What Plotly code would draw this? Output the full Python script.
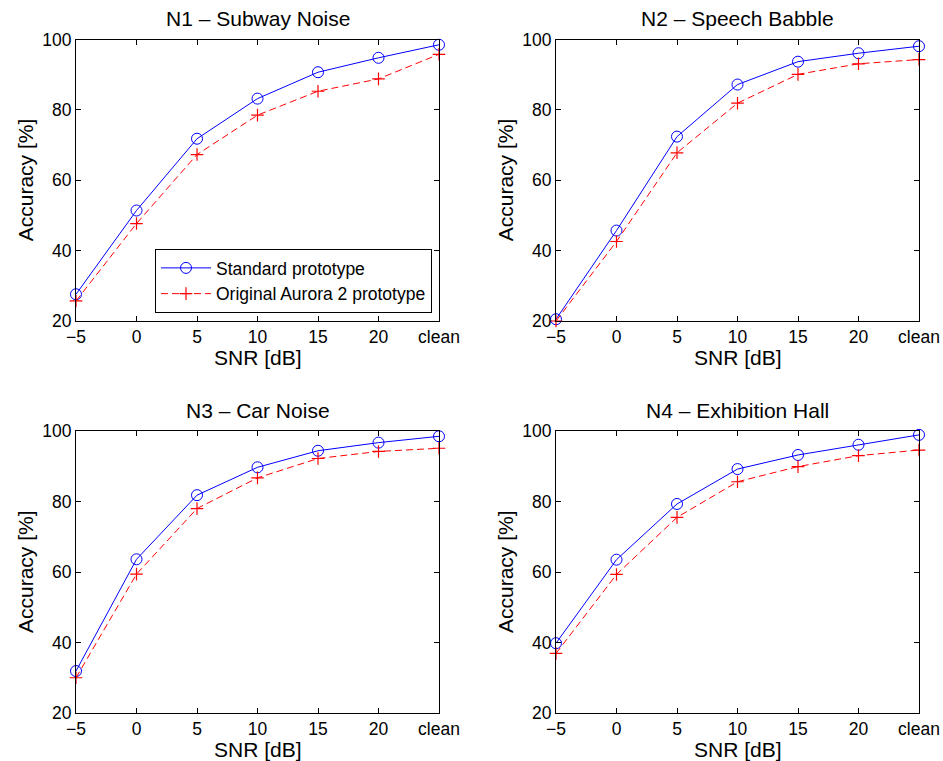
import plotly.graph_objects as go

snr_labels = ["\u22125", "0", "5", "10", "15", "20", "clean"]
x_pos = [0, 1, 2, 3, 4, 5, 6]

titles = ["N1 \u2013 Subway Noise", "N2 \u2013 Speech Babble",
          "N3 \u2013 Car Noise", "N4 \u2013 Exhibition Hall"]

std_n1 = [27.6, 51.4, 71.8, 83.2, 90.7, 94.8, 98.5]
orig_n1 = [25.7, 47.7, 67.3, 78.5, 85.3, 88.8, 95.8]
std_n2 = [20.5, 45.7, 72.4, 87.2, 93.7, 96.1, 98.1]
orig_n2 = [20.0, 42.6, 67.8, 81.9, 90.1, 93.1, 94.3]
std_n3 = [31.9, 63.6, 81.8, 89.7, 94.4, 96.7, 98.5]
orig_n3 = [30.0, 59.4, 78.0, 86.7, 92.2, 94.2, 95.1]
std_n4 = [39.8, 63.5, 79.3, 89.2, 93.2, 96.1, 98.9]
orig_n4 = [36.9, 59.3, 75.5, 85.6, 89.9, 93.0, 94.6]

std_all = [std_n1, std_n2, std_n3, std_n4]
orig_all = [orig_n1, orig_n2, orig_n3, orig_n4]

W, H = 943, 761
FONT = "Liberation Sans, Arial, Helvetica, sans-serif"
TICK_SIZE = 17.5
LABEL_SIZE = 21

# axes boxes in pixels: (left, right, top, bottom)
boxes = [(76, 439, 39.5, 321), (556, 919, 39.5, 321),
         (76, 439, 431, 713), (556, 919, 431, 713)]

fig = go.Figure()
layout = dict(
    template="none",
    width=W, height=H, margin=dict(l=0, r=0, t=0, b=0, pad=0, autoexpand=False),
    paper_bgcolor="white", plot_bgcolor="white",
    font=dict(family=FONT, size=TICK_SIZE, color="black"),
    showlegend=True,
    legend=dict(x=432 / W, xanchor="right", y=1 - 313 / H, yanchor="bottom",
                bgcolor="white", bordercolor="black", borderwidth=1,
                font=dict(family=FONT, size=TICK_SIZE, color="black"),
                tracegroupgap=0, itemwidth=50),
)

annotations = []
for i in range(4):
    l, r, t, b = boxes[i]
    xa = "xaxis" if i == 0 else f"xaxis{i+1}"
    ya = "yaxis" if i == 0 else f"yaxis{i+1}"
    xref = "x" if i == 0 else f"x{i+1}"
    yref = "y" if i == 0 else f"y{i+1}"
    axis_common = dict(showline=True, linecolor="black", linewidth=1, mirror="ticks",
                       ticks="inside", ticklen=5, tickcolor="black", showgrid=False,
                       zeroline=False, automargin=False,
                       tickfont=dict(family=FONT, size=TICK_SIZE, color="black"))
    layout[xa] = dict(domain=[l / W, r / W], range=[0, 6], tickvals=x_pos,
                      ticktext=snr_labels, anchor=yref, **axis_common)
    layout[ya] = dict(domain=[1 - b / H, 1 - t / H], range=[20, 100],
                      tickvals=[20, 40, 60, 80, 100], anchor=xref, **axis_common)
    fig.add_trace(go.Scatter(
        x=x_pos, y=std_all[i], xaxis=xref, yaxis=yref, mode="lines+markers",
        name="Standard prototype", showlegend=(i == 0), cliponaxis=False,
        line=dict(color="blue", width=1),
        marker=dict(symbol="circle-open", size=11, color="blue", line=dict(width=1))))
    fig.add_trace(go.Scatter(
        x=x_pos, y=orig_all[i], xaxis=xref, yaxis=yref, mode="lines+markers",
        name="Original Aurora 2 prototype", showlegend=(i == 0), cliponaxis=False,
        line=dict(color="red", width=1, dash="7px,4px"),
        marker=dict(symbol="cross-thin-open", size=9, color="red",
                    line=dict(width=1.2, color="red"))))
    cx = (l + r) / 2
    annotations.append(dict(text=titles[i], x=cx / W, y=1 - (t - 21) / H,
                            xref="paper", yref="paper", showarrow=False,
                            font=dict(family=FONT, size=LABEL_SIZE, color="black"),
                            xanchor="center", yanchor="middle"))
    annotations.append(dict(text="SNR [dB]", x=cx / W, y=1 - (b + 36) / H,
                            xref="paper", yref="paper", showarrow=False,
                            font=dict(family=FONT, size=LABEL_SIZE, color="black"),
                            xanchor="center", yanchor="middle"))
    annotations.append(dict(text="Accuracy [%]", x=(l - 51) / W, y=1 - ((t + b) / 2) / H,
                            xref="paper", yref="paper", showarrow=False, textangle=-90,
                            font=dict(family=FONT, size=LABEL_SIZE, color="black"),
                            xanchor="center", yanchor="middle"))

layout["annotations"] = annotations
fig.update_layout(**layout)
fig.write_html("out.html")
